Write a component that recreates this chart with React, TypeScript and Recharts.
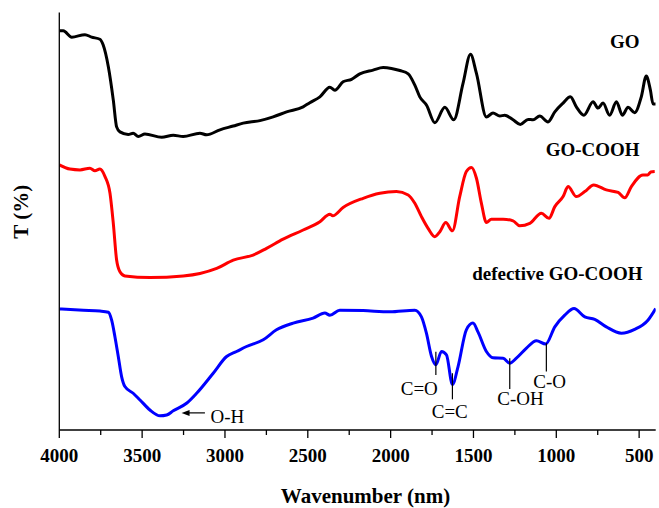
import React from 'react';
import { LineChart, Line, XAxis, YAxis, ReferenceLine, ReferenceDot } from 'recharts';

// ---- Data (wavenumber in cm-1 style units, transmittance in arbitrary offset %) ----
const goWn = [4000, 3976, 3925, 3845, 3805, 3755, 3735, 3704, 3674, 3654, 3634, 3584, 3554, 3523, 3483, 3382, 3312, 3252, 3151, 3111, 3030, 2950, 2890, 2789, 2709, 2628, 2528, 2488, 2427, 2367, 2337, 2287, 2236, 2186, 2106, 2045, 1995, 1944, 1894, 1854, 1824, 1783, 1733, 1673, 1619, 1563, 1518, 1482, 1422, 1382, 1341, 1311, 1261, 1217, 1170, 1140, 1100, 1050, 1009, 959, 915, 879, 834, 778, 748, 718, 678, 637, 601, 567, 527, 487, 457, 432, 416, 400];
const goT = [95.6, 95.6, 94.1, 94.7, 94.1, 93.6, 92.2, 87.0, 79.0, 72.6, 71.4, 70.8, 71.1, 70.3, 70.9, 70.1, 70.6, 70.3, 71.1, 70.7, 71.9, 72.8, 73.5, 74.1, 75.0, 76.2, 77.4, 78.4, 79.8, 82.1, 81.4, 83.4, 84.0, 85.3, 86.2, 86.8, 86.6, 86.1, 85.3, 82.6, 79.8, 77.8, 73.6, 77.3, 74.3, 83.0, 90.0, 85.4, 75.0, 75.9, 75.2, 75.4, 74.3, 73.2, 74.4, 74.3, 75.2, 73.8, 76.2, 78.3, 79.8, 77.4, 75.4, 78.6, 77.1, 78.3, 75.4, 78.6, 75.4, 77.3, 76.0, 79.8, 84.8, 81.4, 78.1, 78.1];

const cooWn = [4000, 3936, 3875, 3815, 3785, 3755, 3724, 3694, 3674, 3654, 3634, 3604, 3453, 3252, 3151, 3050, 2950, 2830, 2749, 2649, 2528, 2427, 2367, 2350, 2287, 2166, 2065, 1965, 1894, 1854, 1814, 1774, 1733, 1703, 1667, 1627, 1583, 1543, 1512, 1482, 1452, 1422, 1392, 1321, 1261, 1221, 1160, 1090, 1044, 1009, 959, 929, 879, 828, 774, 698, 627, 587, 547, 477, 447, 430, 406];
const cooT = [63.5, 62.5, 62.3, 62.7, 62.1, 62.5, 60.7, 56.7, 49.5, 40.7, 37.9, 36.9, 36.5, 36.9, 37.5, 38.7, 40.7, 41.9, 43.5, 45.7, 47.9, 49.9, 51.7, 51.3, 53.3, 55.5, 56.7, 57.1, 56.3, 54.3, 51.1, 48.3, 46.3, 47.5, 49.7, 47.7, 55.9, 61.9, 62.9, 60.3, 54.3, 49.7, 50.5, 50.5, 50.1, 48.9, 49.5, 51.9, 50.7, 53.5, 55.9, 58.3, 55.9, 57.1, 58.7, 57.5, 56.9, 55.6, 58.3, 61.1, 61.1, 61.8, 61.9];

const defWn = [4000, 3855, 3755, 3704, 3684, 3664, 3644, 3624, 3604, 3554, 3513, 3453, 3392, 3352, 3312, 3232, 3171, 3071, 2990, 2930, 2870, 2769, 2689, 2588, 2468, 2397, 2367, 2307, 2166, 2005, 1854, 1814, 1784, 1753, 1727, 1693, 1663, 1627, 1593, 1543, 1503, 1473, 1422, 1382, 1321, 1281, 1241, 1180, 1120, 1064, 1009, 949, 893, 828, 768, 698, 607, 527, 447, 400];
const defT = [29.0, 28.7, 28.5, 28.2, 26.3, 22.3, 17.6, 12.8, 10.4, 8.8, 7.2, 4.8, 3.4, 3.6, 4.6, 6.4, 8.8, 13.6, 17.6, 18.8, 20.0, 21.6, 24.0, 25.6, 26.8, 28.0, 27.5, 28.7, 28.6, 28.3, 28.7, 27.1, 23.2, 17.6, 15.6, 18.8, 18.0, 10.9, 15.2, 24.0, 25.6, 23.5, 18.8, 17.3, 17.2, 16.0, 17.2, 19.6, 21.4, 20.6, 24.7, 27.5, 29.1, 27.1, 26.5, 24.7, 23.2, 24.1, 26.3, 29.1];

const seriesNames = ['GO', 'GO-COOH', 'defective GO-COOH'];
const allTicks = [4000, 3750, 3500, 3250, 3000, 2750, 2500, 2250, 2000, 1750, 1500, 1250, 1000, 750, 500];

// band annotations
const bandLabels = ['C=O', 'C=C', 'C-OH', 'C-O'];
const bandWn = [1727, 1627, 1281, 1060];
const bandLow = [13.2, 7.35, 9.8, 14.0];
const bandHigh = [18.75, 13.6, 17.2, 20.8];
const bandTextWn = [1827, 1643, 1216, 1040];
const bandTextT = [8.4, 2.95, 6.0, 10.0];

const rows = (wn: number[], t: number[]) => wn.map((w, i) => ({ wn: w, t: t[i] }));
const goData = rows(goWn, goT);
const cooData = rows(cooWn, cooT);
const defData = rows(defWn, defT);

const FONT = '"Liberation Serif", "Times New Roman", Times, "DejaVu Serif", serif';

const XTick = (props: any) => {
  const { x, y, payload } = props;
  const major = payload.value % 500 === 0;
  return (
    <g>
      <line x1={x} x2={x} y1={y} y2={y + (major ? 8 : 5)} stroke="#000" strokeWidth={1.3} />
      {major && (
        <text x={x} y={y + 31.5} textAnchor="middle" style={{ fontFamily: FONT, fontWeight: 'bold', fontSize: 19 }} fill="#000">
          {payload.value}
        </text>
      )}
    </g>
  );
};

const textShape = (label: string, anchor: string, bold: boolean) => (p: any) => (
  <text x={p.cx} y={p.cy} textAnchor={anchor} style={{ fontFamily: FONT, fontWeight: bold ? 'bold' : 'normal', fontSize: 19 }} fill="#000">
    {label}
  </text>
);

const ArrowShape = (p: any) => {
  const xl = Math.min(p.x1, p.x2);
  const xr = Math.max(p.x1, p.x2);
  const y = p.y1;
  return (
    <g>
      <line x1={xl + 5} x2={xr} y1={y} y2={y} stroke="#000" strokeWidth={1.2} />
      <polygon points={`${xl},${y} ${xl + 8},${y - 3} ${xl + 8},${y + 3}`} fill="#000" />
    </g>
  );
};

export default function App() {
  return (
    <div style={{ position: 'absolute', left: 0, top: 0, width: 659, height: 508, background: '#fff', fontFamily: FONT }}>
      <LineChart width={659} height={508} margin={{ top: 12.5, right: 3.3, left: 0, bottom: 0 }}>
        <XAxis
          dataKey="wn"
          type="number"
          domain={[400, 4000]}
          reversed
          allowDataOverflow
          ticks={allTicks}
          interval={0}
          tick={<XTick />}
          tickLine={false}
          tickSize={0}
          tickMargin={0}
          height={78}
          axisLine={{ stroke: '#000', strokeWidth: 1.3 }}
          label={{
            content: (lp: any) => {
              const vb = lp.viewBox;
              return (
                <text x={vb.x + vb.width / 2 + 8} y={vb.y + 73} textAnchor="middle" style={{ fontFamily: FONT, fontWeight: 'bold', fontSize: 21 }} fill="#000">
                  Wavenumber (nm)
                </text>
              );
            },
          }}
        />
        <XAxis
          xAxisId="top"
          orientation="top"
          type="number"
          domain={[400, 4000]}
          reversed
          tick={false}
          tickLine={false}
          height={0}
          axisLine={{ stroke: '#000', strokeWidth: 1.3 }}
        />
        <YAxis
          type="number"
          domain={[0, 100]}
          allowDataOverflow
          tick={false}
          tickLine={false}
          width={59.3}
          axisLine={{ stroke: '#000', strokeWidth: 1.3 }}
          label={{
            content: () => (
              <text x={28.3} y={211.7} textAnchor="middle" transform="rotate(-90, 28.3, 211.7)" style={{ fontFamily: FONT, fontWeight: 'bold', fontSize: 21 }} fill="#000">
                T (%)
              </text>
            ),
          }}
        />
        <YAxis
          yAxisId="right"
          orientation="right"
          domain={[0, 100]}
          tick={false}
          tickLine={false}
          width={0}
          axisLine={{ stroke: '#000', strokeWidth: 1.3 }}
        />
        <Line data={goData} dataKey="t" name={seriesNames[0]} type="monotone" stroke="#000000" strokeWidth={3} dot={false} isAnimationActive={false} />
        <Line data={cooData} dataKey="t" name={seriesNames[1]} type="monotone" stroke="#ff0000" strokeWidth={3} dot={false} isAnimationActive={false} />
        <Line data={defData} dataKey="t" name={seriesNames[2]} type="monotone" stroke="#0000ff" strokeWidth={3} dot={false} isAnimationActive={false} />

        {bandWn.map((w, i) => (
          <ReferenceLine
            key={'bl' + i}
            segment={[{ x: w, y: bandLow[i] }, { x: w, y: bandHigh[i] }]}
            stroke="#000"
            strokeWidth={1.2}
          />
        ))}
        {bandLabels.map((l, i) => (
          <ReferenceDot key={'bt' + i} x={bandTextWn[i]} y={bandTextT[i]} r={0} shape={textShape(l, 'middle', false)} />
        ))}
        <ReferenceLine segment={[{ x: 3262, y: 4.1 }, { x: 3121, y: 4.1 }]} shape={ArrowShape} />
        <ReferenceDot x={3087} y={1.75} r={0} shape={textShape('O-H', 'start', false)} />

        <ReferenceDot x={497} y={91.4} r={0} shape={textShape(seriesNames[0], 'end', true)} />
        <ReferenceDot x={497} y={65.6} r={0} shape={textShape(seriesNames[1], 'end', true)} />
        <ReferenceDot x={479} y={35.9} r={0} shape={textShape(seriesNames[2], 'end', true)} />
      </LineChart>
    </div>
  );
}
